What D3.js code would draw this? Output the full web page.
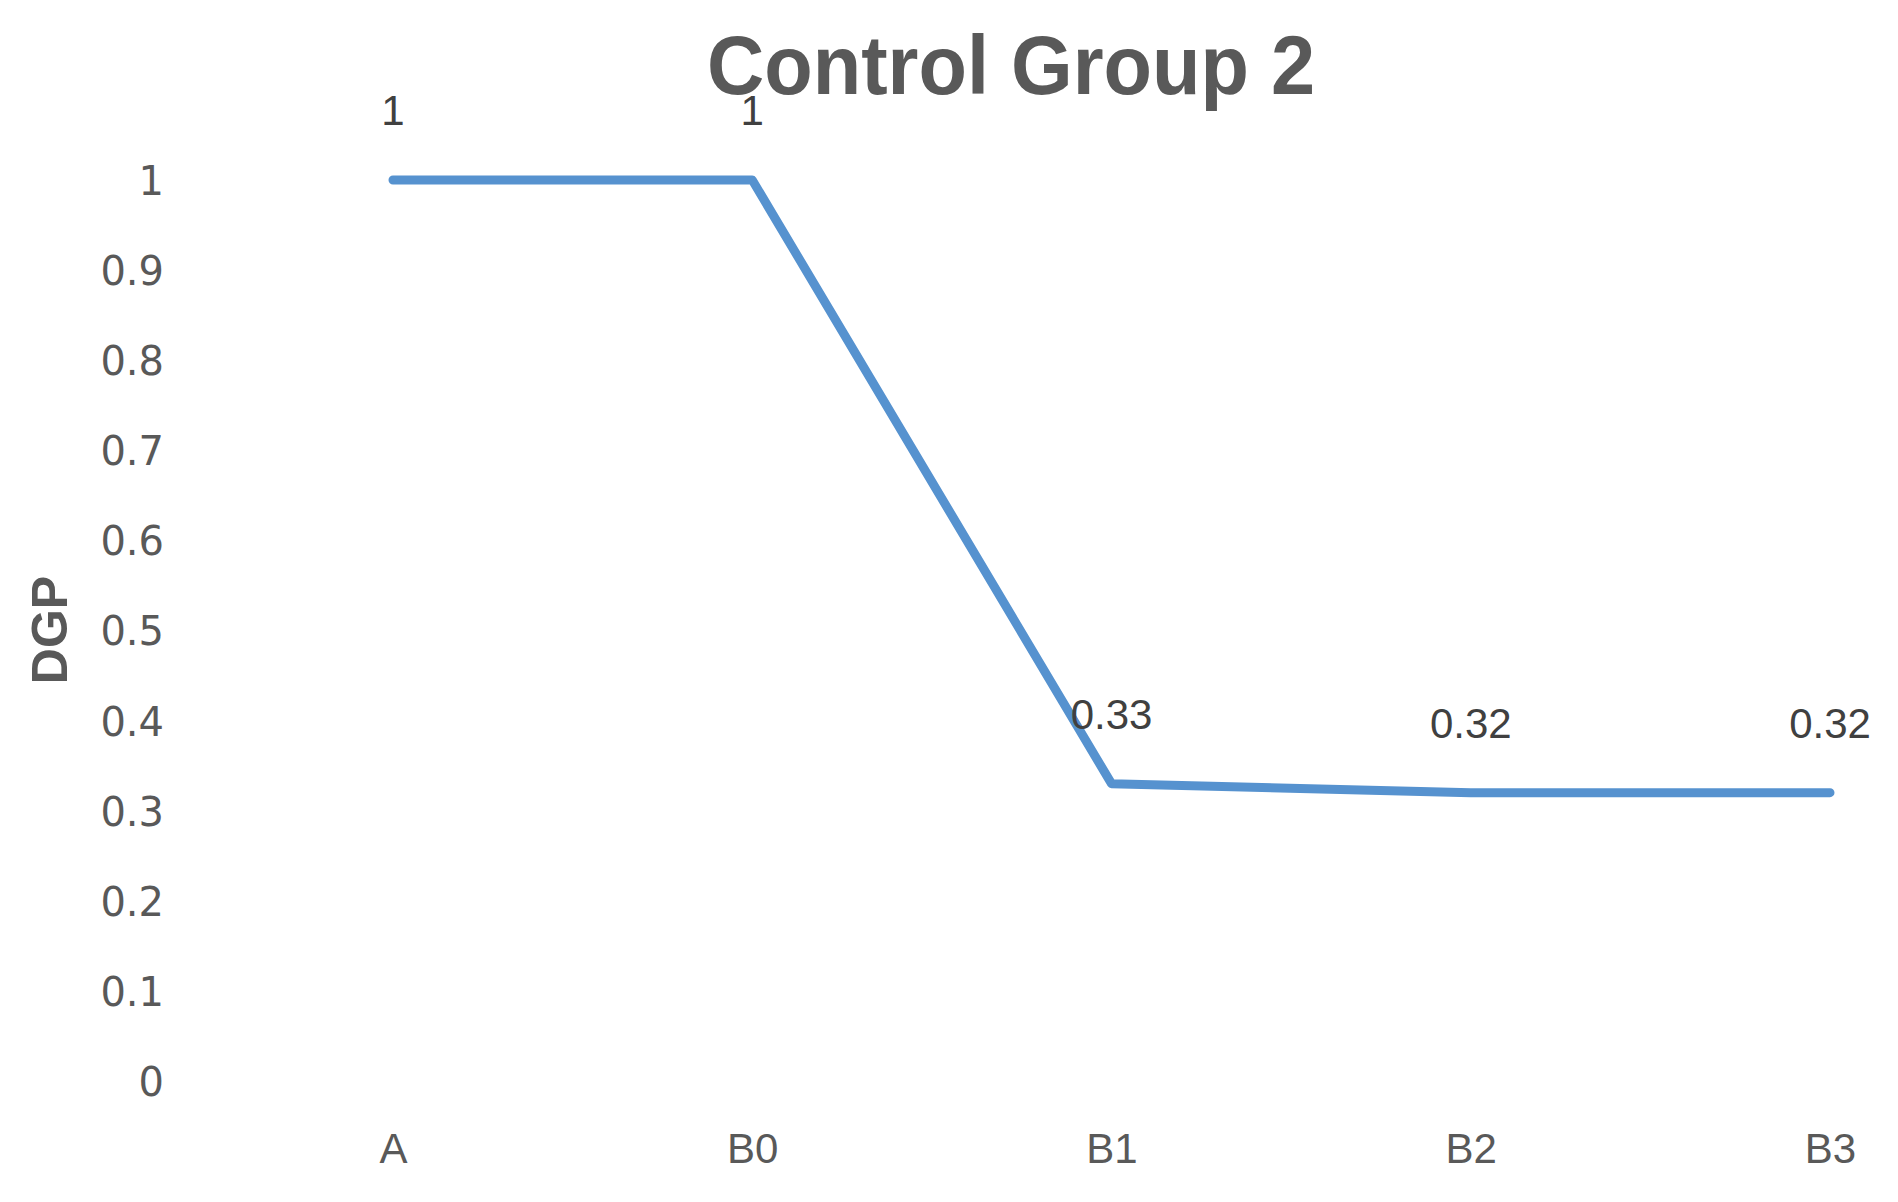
<!DOCTYPE html>
<html>
<head>
<meta charset="utf-8">
<script src="https://cdn.jsdelivr.net/npm/d3@7"></script>
<style>
  html, body { margin: 0; padding: 0; background: #ffffff; }
  svg { display: block; }
</style>
</head>
<body>
<svg id="chart" width="1898" height="1202"></svg>
<script>
const categories = ["A", "B0", "B1", "B2", "B3"];
const values = [1, 1, 0.33, 0.32, 0.32];
const valueLabels = ["1", "1", "0.33", "0.32", "0.32"];
const yTicks = [0, 0.1, 0.2, 0.3, 0.4, 0.5, 0.6, 0.7, 0.8, 0.9, 1];
const yTickLabels = ["0", "0.1", "0.2", "0.3", "0.4", "0.5", "0.6", "0.7", "0.8", "0.9", "1"];
const titleText = "Control Group 2";
const yAxisTitle = "DGP";

const svg = d3.select("#chart");

const x = d3.scalePoint().domain(categories).range([393, 1830]);
const y = d3.scaleLinear().domain([0, 1]).range([1081, 180]);

// Title
svg.append("text")
  .attr("x", 1011).attr("y", 94)
  .attr("text-anchor", "middle")
  .attr("font-family", "Liberation Sans, Arial, sans-serif")
  .attr("font-weight", "bold")
  .attr("font-size", 84)
  .attr("textLength", 608)
  .attr("lengthAdjust", "spacingAndGlyphs")
  .attr("fill", "#595959")
  .text(titleText);

// Y axis
const yAxis = d3.axisLeft(y)
  .tickValues(yTicks)
  .tickFormat((d, i) => yTickLabels[i])
  .tickSize(0)
  .tickPadding(0);
const yg = svg.append("g").attr("transform", "translate(164,0)").call(yAxis);
yg.select(".domain").remove();
yg.selectAll("text")
  .attr("font-family", "DejaVu Sans, sans-serif")
  .attr("font-size", 40)
  .attr("fill", "#595959")
  .attr("dy", "0.36em");

// X axis
const xAxis = d3.axisBottom(x).tickSize(0).tickPadding(0);
const xg = svg.append("g").attr("transform", "translate(0,1148)").call(xAxis);
xg.select(".domain").remove();
xg.selectAll("text")
  .attr("font-family", "Liberation Sans, Arial, sans-serif")
  .attr("font-size", 42)
  .attr("fill", "#595959")
  .attr("dy", "0.36em");

// Y axis title
svg.append("text")
  .attr("transform", "translate(67,630) rotate(-90)")
  .attr("text-anchor", "middle")
  .attr("font-family", "Liberation Sans, Arial, sans-serif")
  .attr("font-weight", "bold")
  .attr("font-size", 50)
  .attr("fill", "#595959")
  .text(yAxisTitle);

// Line
const line = d3.line()
  .x((d, i) => x(categories[i]))
  .y(d => y(d));
svg.append("path")
  .datum(values)
  .attr("d", line)
  .attr("fill", "none")
  .attr("stroke", "#5692cf")
  .attr("stroke-width", 9)
  .attr("stroke-linejoin", "round")
  .attr("stroke-linecap", "round");

// Data labels
svg.selectAll(".dlabel")
  .data(values)
  .enter().append("text")
  .attr("class", "dlabel")
  .attr("x", (d, i) => x(categories[i]))
  .attr("y", d => y(d) - 55)
  .attr("text-anchor", "middle")
  .attr("font-family", "Liberation Sans, Arial, sans-serif")
  .attr("font-size", 42)
  .attr("fill", "#404040")
  .text((d, i) => valueLabels[i]);
</script>
</body>
</html>
